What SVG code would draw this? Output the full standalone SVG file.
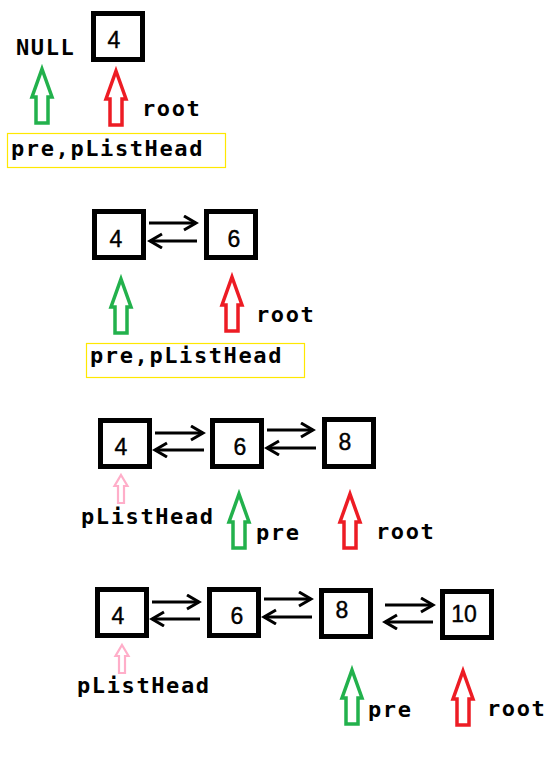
<svg xmlns="http://www.w3.org/2000/svg" xmlns:xlink="http://www.w3.org/1999/xlink" width="556" height="759" viewBox="0 0 556 759">
<style>
.box{fill:#fff;stroke:#000;stroke-width:5}
.num{font-family:"Liberation Sans",Arial,sans-serif;font-size:23px;fill:#000;stroke:#000;stroke-width:0.4;text-anchor:middle}
.lbl{font-family:"DejaVu Sans Mono","Liberation Mono",monospace;font-weight:bold;font-size:22px;letter-spacing:1.6px;fill:#000}
.link{fill:none;stroke:#000;stroke-width:3;marker-end:url(#chev)}
.hl{fill:none;stroke:#ffe800;stroke-width:1.2}
.g{stroke:#22b14c;fill:#fff;stroke-width:3.5}
.r{stroke:#ed1c24;fill:#fff;stroke-width:3.5}
.p{stroke:#ffaec9;fill:#fff;stroke-width:2.2}
</style>
<defs>
<marker id="chev" markerUnits="userSpaceOnUse" markerWidth="20" markerHeight="20" refX="14" refY="8" orient="auto">
<path d="M2,1 L14,8 L2,15" fill="none" stroke="#000" stroke-width="3"/>
</marker>
<path id="big" d="M0,0 L10,28 L6,28 L6,54 L-6,54 L-6,28 L-10,28 Z"/>
<path id="small" d="M0,0 L6.5,11 L3,11 L3,28 L-3,28 L-3,11 L-6.5,11 Z"/>
</defs>

<!-- Step 1 -->
<g id="s1-null"><text class="lbl" x="16" y="55">NULL</text></g>
<g id="s1-n4"><rect class="box" x="93.5" y="13.5" width="49" height="46"/><text class="num" x="114" y="48">4</text></g>
<g id="s1-ptrs">
<use xlink:href="#big" x="42" y="69" class="g"/>
<use xlink:href="#big" x="116" y="71" class="r"/>
<text class="lbl" x="142" y="116">root</text>
<rect class="hl" x="7.5" y="133.5" width="218" height="34"/>
<text class="lbl" x="11" y="156">pre,pListHead</text>
</g>

<!-- Step 2 -->
<g id="s2-n4"><rect class="box" x="94.5" y="211.5" width="49" height="46"/><text class="num" x="116" y="247">4</text></g>
<g id="s2-n6"><rect class="box" x="206.5" y="211.5" width="49" height="46"/><text class="num" x="234" y="247">6</text></g>
<g id="s2-ptrs">
<use xlink:href="#big" x="121" y="279" class="g"/>
<use xlink:href="#big" x="232" y="277" class="r"/>
<text class="lbl" x="256" y="322">root</text>
<rect class="hl" x="86.5" y="343.5" width="218" height="34"/>
<text class="lbl" x="90" y="363">pre,pListHead</text>
</g>

<!-- Step 3 -->
<g id="s3-n4"><rect class="box" x="100.5" y="420.5" width="49" height="46"/><text class="num" x="121" y="455">4</text></g>
<g id="s3-n6"><rect class="box" x="212.5" y="420.5" width="49" height="46"/><text class="num" x="240" y="455">6</text></g>
<g id="s3-n8"><rect class="box" x="324.5" y="419.5" width="49" height="47"/><text class="num" x="345" y="450">8</text></g>
<g id="s3-ptrs">
<use xlink:href="#small" x="121" y="475" class="p"/>
<text class="lbl" x="81" y="524">pListHead</text>
<use xlink:href="#big" x="239" y="494" class="g"/>
<text class="lbl" x="256" y="540">pre</text>
<use xlink:href="#big" x="350" y="494" class="r"/>
<text class="lbl" x="376" y="539">root</text>
</g>

<!-- Step 4 -->
<g id="s4-n4"><rect class="box" x="97.5" y="589.5" width="49" height="46"/><text class="num" x="118" y="624">4</text></g>
<g id="s4-n6"><rect class="box" x="209.5" y="589.5" width="49" height="46"/><text class="num" x="237" y="624">6</text></g>
<g id="s4-n8"><rect class="box" x="321.5" y="590.5" width="49" height="46"/><text class="num" x="342" y="618">8</text></g>
<g id="s4-n10"><rect class="box" x="442.5" y="591.5" width="49" height="46"/><text class="num" x="464" y="622">10</text></g>
<g id="s4-ptrs">
<use xlink:href="#small" x="122" y="645" class="p"/>
<text class="lbl" x="77" y="693">pListHead</text>
<use xlink:href="#big" x="352" y="670" class="g"/>
<text class="lbl" x="368" y="717">pre</text>
<use xlink:href="#big" x="463" y="671" class="r"/>
<text class="lbl" x="487" y="716">root</text>
</g>

<g id="connectors">
<line class="link" x1="149" y1="223" x2="196" y2="223"/>
<line class="link" x1="197" y1="241" x2="150" y2="241"/>
<line class="link" x1="155" y1="433" x2="203" y2="433"/>
<line class="link" x1="204" y1="450" x2="155" y2="450"/>
<line class="link" x1="267" y1="430" x2="313" y2="430"/>
<line class="link" x1="316" y1="448" x2="267" y2="448"/>
<line class="link" x1="152" y1="602" x2="199" y2="602"/>
<line class="link" x1="200" y1="619" x2="152" y2="619"/>
<line class="link" x1="264" y1="599" x2="311" y2="599"/>
<line class="link" x1="312" y1="617" x2="264" y2="617"/>
<line class="link" x1="385" y1="605" x2="433" y2="605"/>
<line class="link" x1="433" y1="622" x2="385" y2="622"/>
</g>
</svg>
